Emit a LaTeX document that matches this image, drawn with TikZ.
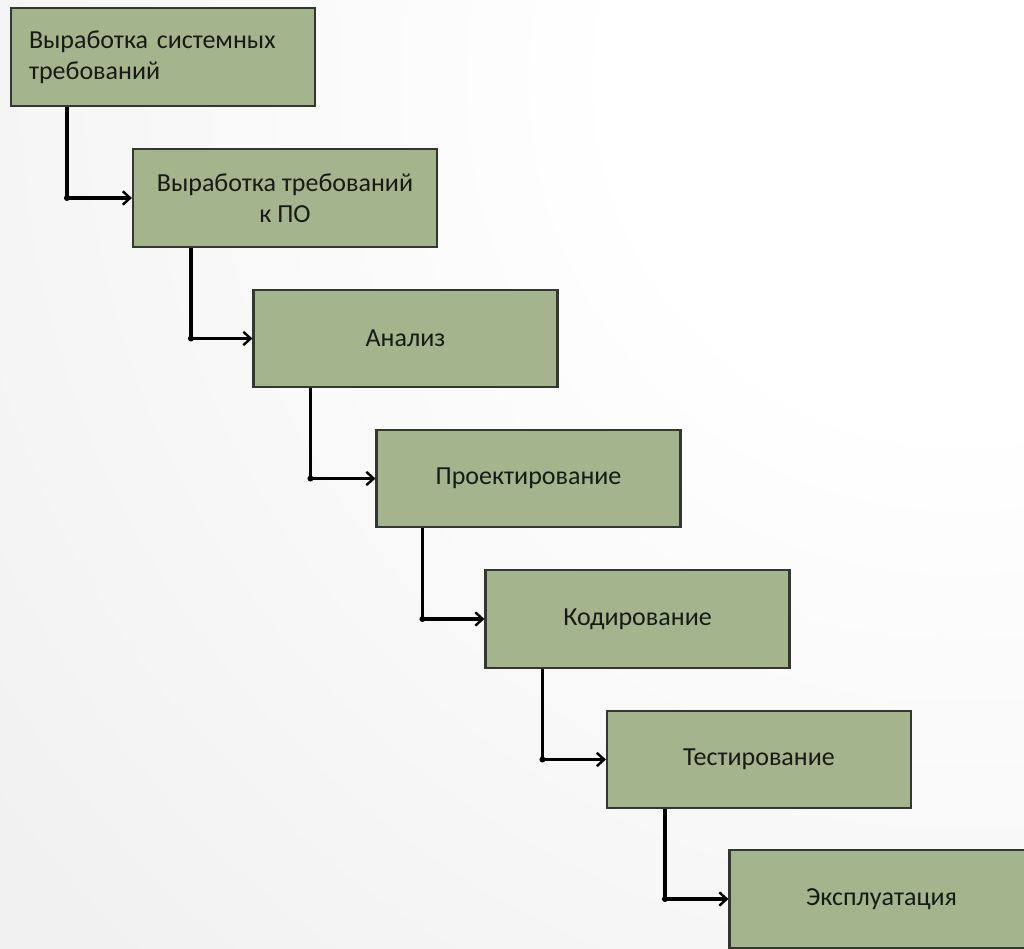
\documentclass[tikz,border=0pt]{standalone}
\usepackage{fontspec}
\setmainfont{Carlito}
\usetikzlibrary{arrows.meta}

\definecolor{boxfill}{RGB}{164,180,140}
\definecolor{boxline}{RGB}{52,54,50}
\definecolor{ink}{RGB}{24,26,22}
\definecolor{bgedge}{RGB}{218,218,218}

% soft backdrop: white in the upper right, fading to light grey
\pgfdeclareradialshading{backdrop}{\pgfpoint{0bp}{0bp}}{%
  color(0bp)=(white); color(6bp)=(white); color(48bp)=(bgedge); color(100bp)=(bgedge)}

\tikzset{
  stage/.style={draw=boxline, line width=1.6pt, fill=boxfill,
    minimum width=228pt, minimum height=73pt, inner sep=0pt,
    font=\fontsize{19.5}{23}\selectfont, text=ink, align=center},
  firststage/.style={stage, text width=201pt, align=left, inner xsep=13.5pt},
  flow/.style={line width=2.6pt, black,
    -{Straight Barb[length=5.5pt,width=10pt,line width=1.8pt]}},
  joint/.style={circle, fill=black, inner sep=0pt, minimum size=4.5pt}
}

\begin{document}
\begin{tikzpicture}[x=0.75pt, y=-0.75pt]
  \useasboundingbox (0,0) rectangle (1024,949);
  \begin{scope}
    \clip (0,0) rectangle (1024,949);
    \shade[shading=backdrop] (-440,-1320) rectangle (2360,1480);
  \end{scope}

  \node[firststage] (s1) at (163,57)    {Выработка системных\\требований};
  \node[stage]      (s2) at (285,198)   {Выработка требований\\к ПО};
  \node[stage]      (s3) at (405.5,338.5) {Анализ};
  \node[stage]      (s4) at (528.5,478.5) {Проектирование};
  \node[stage]      (s5) at (637.5,619) {Кодирование};
  \node[stage]      (s6) at (759,759.5) {Тестирование};
  \node[stage]      (s7) at (881.5,899) {Эксплуатация};

  \draw[flow] ([xshift=42.75pt]s1.south west) |- node[pos=0.5, joint] {} (s2.west);
  \draw[flow] ([xshift=44.25pt]s2.south west) |- node[pos=0.5, joint] {} (s3.west);
  \draw[flow] ([xshift=43.5pt]s3.south west)  |- node[pos=0.5, joint] {} (s4.west);
  \draw[flow] ([xshift=35.25pt]s4.south west) |- node[pos=0.5, joint] {} (s5.west);
  \draw[flow] ([xshift=43.5pt]s5.south west)  |- node[pos=0.5, joint] {} (s6.west);
  \draw[flow] ([xshift=44.25pt]s6.south west) |- node[pos=0.5, joint] {} (s7.west);
\end{tikzpicture}
\end{document}
